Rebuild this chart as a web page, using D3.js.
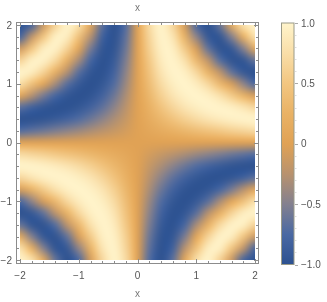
<!DOCTYPE html>
<html><head><meta charset="utf-8">
<script src="https://cdn.jsdelivr.net/npm/d3@7"></script>
<style>html,body{margin:0;padding:0;background:#fff;}#wrap{position:relative;width:327px;height:302px;}#wrap canvas,#wrap svg{position:absolute;left:0;top:0;display:block;}</style>
</head><body>
<div id="wrap"><canvas id="cv" width="327" height="302"></canvas><svg id="chart" width="327" height="302"></svg></div>
<script>
// grid coordinates (x columns, y rows from top to bottom)
const xValues = [-2,-1.8,-1.6,-1.4,-1.2,-1,-0.8,-0.6,-0.4,-0.2,0,0.2,0.4,0.6,0.8,1,1.2,1.4,1.6,1.8,2];
const yValues = [2,1.8,1.6,1.4,1.2,1,0.8,0.6,0.4,0.2,0,-0.2,-0.4,-0.6,-0.8,-1,-1.2,-1.4,-1.6,-1.8,-2];
// values, one row per y value
const zRows = [
[-.99,-.79,-.12,.63,1,.76,.06,-.68,-1,-.72,0,.72,1,.68,-.06,-.76,-1,-.63,.12,.79,.99],
[-.79,-.20,.50,.95,.92,.44,-.26,-.83,-.99,-.66,0,.66,.99,.83,.26,-.44,-.92,-.95,-.50,.20,.79],
[-.12,.50,.92,.97,.64,.06,-.55,-.94,-.96,-.60,0,.60,.96,.94,.55,-.06,-.64,-.97,-.92,-.50,.12],
[.63,.95,.97,.70,.22,-.33,-.78,-.99,-.90,-.53,0,.53,.90,.99,.78,.33,-.22,-.70,-.97,-.95,-.63],
[1,.92,.64,.22,-.26,-.68,-.94,-.99,-.82,-.46,0,.46,.82,.99,.94,.68,.26,-.22,-.64,-.92,-1],
[.76,.44,.06,-.33,-.68,-.91,-1,-.93,-.72,-.39,0,.39,.72,.93,1,.91,.68,.33,-.06,-.44,-.76],
[.06,-.26,-.55,-.78,-.94,-1,-.96,-.82,-.60,-.31,0,.31,.60,.82,.96,1,.94,.78,.55,.26,-.06],
[-.68,-.83,-.94,-.99,-.99,-.93,-.82,-.66,-.46,-.24,0,.24,.46,.66,.82,.93,.99,.99,.94,.83,.68],
[-1,-.99,-.96,-.90,-.82,-.72,-.60,-.46,-.31,-.16,0,.16,.31,.46,.60,.72,.82,.90,.96,.99,1],
[-.72,-.66,-.60,-.53,-.46,-.39,-.31,-.24,-.16,-.08,0,.08,.16,.24,.31,.39,.46,.53,.60,.66,.72],
[0,0,0,0,0,0,0,0,0,0,0,0,0,0,0,0,0,0,0,0,0],
[.72,.66,.60,.53,.46,.39,.31,.24,.16,.08,0,-.08,-.16,-.24,-.31,-.39,-.46,-.53,-.60,-.66,-.72],
[1,.99,.96,.90,.82,.72,.60,.46,.31,.16,0,-.16,-.31,-.46,-.60,-.72,-.82,-.90,-.96,-.99,-1],
[.68,.83,.94,.99,.99,.93,.82,.66,.46,.24,0,-.24,-.46,-.66,-.82,-.93,-.99,-.99,-.94,-.83,-.68],
[-.06,.26,.55,.78,.94,1,.96,.82,.60,.31,0,-.31,-.60,-.82,-.96,-1,-.94,-.78,-.55,-.26,.06],
[-.76,-.44,-.06,.33,.68,.91,1,.93,.72,.39,0,-.39,-.72,-.93,-1,-.91,-.68,-.33,.06,.44,.76],
[-1,-.92,-.64,-.22,.26,.68,.94,.99,.82,.46,0,-.46,-.82,-.99,-.94,-.68,-.26,.22,.64,.92,1],
[-.63,-.95,-.97,-.70,-.22,.33,.78,.99,.90,.53,0,-.53,-.90,-.99,-.78,-.33,.22,.70,.97,.95,.63],
[.12,-.50,-.92,-.97,-.64,-.06,.55,.94,.96,.60,0,-.60,-.96,-.94,-.55,.06,.64,.97,.92,.50,-.12],
[.79,.20,-.50,-.95,-.92,-.44,.26,.83,.99,.66,0,-.66,-.99,-.83,-.26,.44,.92,.95,.50,-.20,-.79],
[.99,.79,.12,-.63,-1,-.76,-.06,.68,1,.72,0,-.72,-1,-.68,.06,.76,1,.63,-.12,-.79,-.99]
];
const xTicks = [-2,-1,0,1,2];
const yTicks = [-2,-1,0,1,2];
const minorTicks = [-1.8,-1.6,-1.4,-1.2,-0.8,-0.6,-0.4,-0.2,0.2,0.4,0.6,0.8,1.2,1.4,1.6,1.8];
const barTicks = [1,0.5,0,-0.5,-1];
const barTickLabels = ["1.0","0.5","0","\u22120.5","\u22121.0"];
const barMinorTicks = [0.9,0.8,0.7,0.6,0.4,0.3,0.2,0.1,-0.1,-0.2,-0.3,-0.4,-0.6,-0.7,-0.8,-0.9];
const colorStops = [-1,-0.75,-0.5,-0.25,0,0.25,0.5,0.75,1];
const colorList = ["#2c5190","#4a69a3","#83808f","#b8926e","#e0a255","#e9b265","#f2c681","#f9dea8","#fff4cb"];
const axisLabel = "x";

const fmt = v => v < 0 ? "\u2212" + Math.abs(v) : String(v);
const W = 327, H = 302;
const x = d3.scaleLinear().domain([-2, 2]).range([20, 255]);
const y = d3.scaleLinear().domain([-2, 2]).range([260, 25]);
const color = d3.scaleLinear().domain(colorStops).range(colorList).interpolate(d3.interpolateRgb).clamp(true);
const cb = d3.scaleLinear().domain([-1, 1]).range([264.5, 23]);

// density image: one pixel per grid cell, drawn smoothly onto the plot area
const nx = xValues.length, ny = yValues.length;
const small = document.createElement("canvas");
small.width = nx; small.height = ny;
const sctx = small.getContext("2d");
const img = sctx.createImageData(nx, ny);
zRows.forEach((row, j) => row.forEach((v, i) => {
  const c = d3.rgb(color(v));
  const k = (j * nx + i) * 4;
  img.data[k] = c.r; img.data[k+1] = c.g; img.data[k+2] = c.b; img.data[k+3] = 255;
}));
sctx.putImageData(img, 0, 0);
const dx = (xValues[1] - xValues[0]) / 2, dy = (yValues[0] - yValues[1]) / 2;
const ctx = document.getElementById("cv").getContext("2d");
ctx.fillStyle = "#fff"; ctx.fillRect(0, 0, W, H);
ctx.save();
ctx.beginPath();
ctx.rect(x(-2), y(2), x(2) - x(-2), y(-2) - y(2));
ctx.clip();
ctx.imageSmoothingEnabled = true;
ctx.imageSmoothingQuality = "high";
const x0 = x(d3.min(xValues) - dx), x1 = x(d3.max(xValues) + dx);
const y0 = y(d3.max(yValues) + dy), y1 = y(d3.min(yValues) - dy);
ctx.drawImage(small, x0, y0, x1 - x0, y1 - y0);
ctx.restore();

const svg = d3.select("#chart");
const frameCol = "#8c8c8c", textCol = "#555";
const fL = 16.5, fR = 258.5, fT = 22.5, fB = 263.5;
svg.append("rect").attr("x", fL).attr("y", fT).attr("width", fR - fL).attr("height", fB - fT)
  .attr("fill", "none").attr("stroke", frameCol).attr("stroke-width", 1);

const g = svg.append("g").attr("stroke", frameCol).attr("stroke-width", 1);
function ticksX(vals, len) {
  vals.forEach(v => {
    const px = Math.round(x(v)) + 0.5;
    g.append("line").attr("x1", px).attr("x2", px).attr("y1", fB).attr("y2", fB - len);
    g.append("line").attr("x1", px).attr("x2", px).attr("y1", fT).attr("y2", fT + len);
  });
}
function ticksY(vals, len) {
  vals.forEach(v => {
    const py = Math.round(y(v)) + 0.5;
    g.append("line").attr("y1", py).attr("y2", py).attr("x1", fL).attr("x2", fL + len);
    g.append("line").attr("y1", py).attr("y2", py).attr("x1", fR).attr("x2", fR - len);
  });
}
ticksX(xTicks, 4.5); ticksX(minorTicks, 2.5);
ticksY(yTicks, 4.5); ticksY(minorTicks, 2.5);

const font = "'Liberation Sans', Arial, sans-serif";
svg.append("g").selectAll("text").data(xTicks).join("text")
  .attr("x", d => x(d)).attr("y", 279).attr("text-anchor", "middle")
  .attr("font-family", font).attr("font-size", 10).attr("fill", textCol).text(fmt);
svg.append("g").selectAll("text").data(yTicks).join("text")
  .attr("x", 12).attr("y", d => y(d) + 3.5).attr("text-anchor", "end")
  .attr("font-family", font).attr("font-size", 10).attr("fill", textCol).text(fmt);
svg.append("text").attr("x", x(0)).attr("y", 11).attr("text-anchor", "middle")
  .attr("font-family", font).attr("font-size", 10).attr("fill", "#777").text(axisLabel);
svg.append("text").attr("x", x(0)).attr("y", 297).attr("text-anchor", "middle")
  .attr("font-family", font).attr("font-size", 10).attr("fill", "#777").text(axisLabel);

// colour bar
const defs = svg.append("defs");
const grad = defs.append("linearGradient").attr("id", "cbgrad")
  .attr("x1", 0).attr("x2", 0).attr("y1", 1).attr("y2", 0);
colorStops.forEach(s => grad.append("stop")
  .attr("offset", (s + 1) / 2).attr("stop-color", color(s)));
const bx0 = 281.5, bx1 = 294;
svg.append("rect").attr("x", bx0).attr("y", cb(1)).attr("width", bx1 - bx0).attr("height", cb(-1) - cb(1))
  .attr("fill", "url(#cbgrad)").attr("stroke", "#9a9a88").attr("stroke-width", 1);
const cg = svg.append("g").attr("stroke", "#aaa").attr("stroke-width", 1);
barTicks.forEach(v => cg.append("line").attr("x1", bx1 + 1).attr("x2", bx1 + 4)
  .attr("y1", Math.round(cb(v)) + 0.5).attr("y2", Math.round(cb(v)) + 0.5));
barMinorTicks.forEach(v => cg.append("line").attr("x1", bx1 + 1).attr("x2", bx1 + 2.5)
  .attr("y1", Math.round(cb(v)) + 0.5).attr("y2", Math.round(cb(v)) + 0.5).attr("stroke", "#ddd"));
svg.append("g").selectAll("text").data(barTicks).join("text")
  .attr("x", 301).attr("y", d => cb(d) + 3.5)
  .attr("font-family", font).attr("font-size", 10).attr("fill", textCol)
  .text((d, i) => barTickLabels[i]);
</script>
</body></html>
